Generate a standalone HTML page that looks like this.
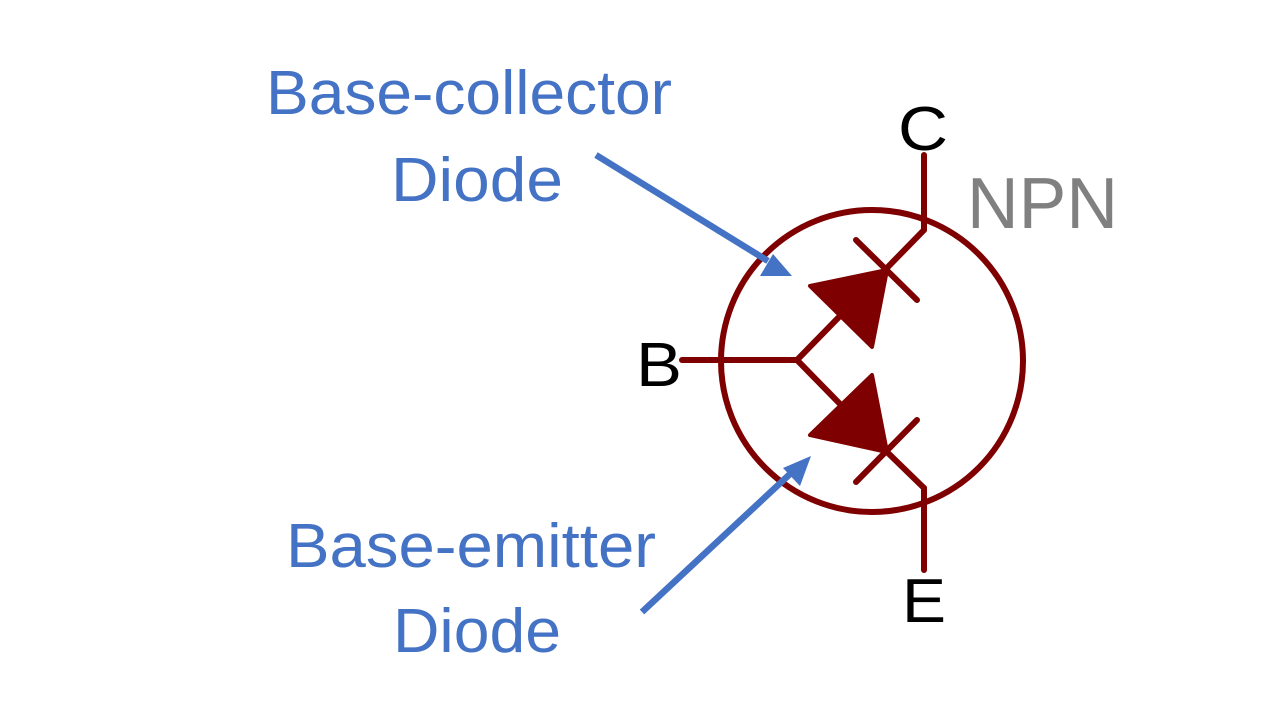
<!DOCTYPE html>
<html><head><meta charset="utf-8"><style>html,body{margin:0;padding:0;background:#fff;}svg{display:block}</style></head>
<body>
<svg width="1280" height="720" viewBox="0 0 1280 720" xmlns="http://www.w3.org/2000/svg">
<rect width="1280" height="720" fill="#fff"/>
<g font-family="Liberation Sans, sans-serif" fill="#4472C4" font-size="62">
<text x="266" y="114" textLength="406" lengthAdjust="spacingAndGlyphs">Base-collector</text>
<text x="391" y="201" textLength="172" lengthAdjust="spacingAndGlyphs">Diode</text>
<text x="286" y="567" textLength="370" lengthAdjust="spacingAndGlyphs">Base-emitter</text>
<text x="393" y="652" textLength="168" lengthAdjust="spacingAndGlyphs">Diode</text>
</g>
<g font-family="Liberation Sans, sans-serif" font-size="62" fill="#000">
<text x="898" y="150" textLength="50" lengthAdjust="spacingAndGlyphs">C</text>
<text x="636" y="386" textLength="46" lengthAdjust="spacingAndGlyphs">B</text>
<text x="902" y="622" textLength="44" lengthAdjust="spacingAndGlyphs">E</text>
</g>
<text x="967" y="228" font-family="Liberation Sans, sans-serif" font-size="72" fill="#808080" textLength="151" lengthAdjust="spacingAndGlyphs">NPN</text>
<g stroke="#7F0000" stroke-width="6" fill="none" stroke-linecap="round">
<circle cx="872" cy="361" r="151"/>
<line x1="924" y1="155" x2="924" y2="230"/>
<line x1="924" y1="230" x2="797" y2="360"/>
<line x1="682" y1="360" x2="797" y2="360"/>
<line x1="856" y1="240" x2="917" y2="300"/>
<line x1="797" y1="360" x2="887" y2="452"/>
<line x1="887" y1="452" x2="924" y2="488"/>
<line x1="924" y1="488" x2="924" y2="570"/>
<line x1="856" y1="482" x2="917" y2="420"/>
</g>
<g fill="#7F0000" stroke="#7F0000" stroke-width="4" stroke-linejoin="round">
<polygon points="810,286 872,347 887,270"/>
<polygon points="810,435 872,375 887,452"/>
</g>
<g stroke="#4472C4" stroke-width="6.5" fill="#4472C4">
<line x1="596" y1="155" x2="768" y2="261"/>
<polygon points="792,276 760,276 773,254" stroke="none"/>
<line x1="642" y1="612" x2="790" y2="474"/>
<polygon points="811,456 800,486 783,468" stroke="none"/>
</g>
</svg>
</body></html>
